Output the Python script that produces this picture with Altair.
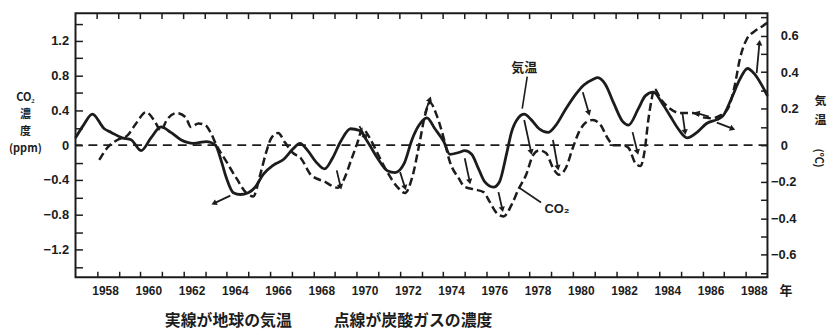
import math
import altair as alt
import pandas as pd

# ---- data ----
# Solid line: global temperature anomaly (right axis, degC)
temp_year = [1957.00, 1957.37, 1957.78, 1958.33, 1958.65, 1959.16, 1959.57, 1960.03, 1960.49, 1960.95,
             1961.41, 1961.87, 1962.46, 1963.06, 1963.47, 1963.75, 1963.98, 1964.30, 1964.62, 1964.99,
             1965.31, 1965.68, 1966.14, 1966.60, 1967.06, 1967.38, 1967.74, 1968.11, 1968.52, 1968.89,
             1969.26, 1969.72, 1970.13, 1970.50, 1970.96, 1971.42, 1971.78, 1972.20, 1972.56, 1972.89,
             1973.25, 1973.62, 1974.03, 1974.31, 1974.72, 1975.00, 1975.32, 1975.64, 1975.92, 1976.33,
             1976.61, 1976.93, 1977.16, 1977.48, 1977.75, 1978.07, 1978.44, 1978.85, 1979.22, 1979.68,
             1980.14, 1980.51, 1980.92, 1981.15, 1981.52, 1981.89, 1982.30, 1982.57, 1983.03, 1983.35,
             1983.72, 1984.13, 1984.50, 1984.87, 1985.28, 1985.74, 1986.20, 1986.66, 1986.94, 1987.35,
             1987.72, 1988.08, 1988.40, 1988.73, 1989.00]
temp_val = [0.04, 0.11, 0.17, 0.09, 0.07, 0.04, 0.03, -0.03, 0.04, 0.10,
            0.07, 0.03, 0.01, 0.02, 0.00, -0.09, -0.18, -0.26, -0.27, -0.26,
            -0.23, -0.16, -0.11, -0.08, -0.02, 0.01, -0.03, -0.09, -0.13, -0.07,
            0.02, 0.09, 0.08, 0.02, -0.07, -0.14, -0.15, -0.10, 0.03, 0.11,
            0.15, 0.09, 0.02, -0.05, -0.04, -0.03, -0.05, -0.13, -0.20, -0.23,
            -0.20, -0.05, 0.07, 0.15, 0.17, 0.14, 0.09, 0.07, 0.11, 0.20,
            0.28, 0.33, 0.36, 0.37, 0.33, 0.23, 0.13, 0.11, 0.20, 0.27,
            0.29, 0.23, 0.16, 0.09, 0.04, 0.07, 0.12, 0.14, 0.16, 0.26,
            0.36, 0.42, 0.39, 0.33, 0.27]

# Dashed line: CO2 concentration anomaly (left axis, ppm)
co2_year = [1958.10, 1958.47, 1958.93, 1959.39, 1959.80, 1960.26, 1960.63, 1960.95, 1961.22, 1961.68,
            1962.10, 1962.33, 1962.69, 1963.01, 1963.24, 1963.52, 1963.98, 1964.44, 1964.90, 1965.22,
            1965.54, 1965.82, 1966.05, 1966.37, 1966.69, 1967.06, 1967.42, 1967.88, 1968.52, 1969.12,
            1969.44, 1969.72, 1970.04, 1970.27, 1970.59, 1970.96, 1971.42, 1971.88, 1972.24, 1972.56,
            1972.89, 1973.16, 1973.39, 1973.71, 1974.03, 1974.31, 1974.72, 1975.00, 1975.46, 1975.87,
            1976.15, 1976.47, 1976.79, 1977.16, 1977.48, 1977.84, 1978.17, 1978.44, 1978.76, 1979.08,
            1979.36, 1979.68, 1980.00, 1980.28, 1980.60, 1980.92, 1981.29, 1981.61, 1981.89, 1982.30,
            1982.57, 1982.90, 1983.13, 1983.31, 1983.49, 1983.63, 1983.77, 1984.04, 1984.50, 1984.96,
            1985.56, 1986.02, 1986.43, 1986.80, 1987.17, 1987.49, 1987.72, 1988.04, 1988.40, 1988.77,
            1989.00]
co2_val = [-0.17, -0.03, 0.06, 0.11, 0.25, 0.38, 0.29, 0.17, 0.29, 0.37,
           0.32, 0.21, 0.25, 0.23, 0.15, 0.00, -0.19, -0.38, -0.55, -0.59,
           -0.34, -0.08, 0.08, 0.14, 0.03, -0.09, -0.15, -0.34, -0.42, -0.49,
           -0.38, -0.19, 0.03, 0.19, 0.09, -0.09, -0.31, -0.48, -0.55, -0.38,
           0.00, 0.34, 0.49, 0.34, 0.08, -0.19, -0.38, -0.48, -0.51, -0.54,
           -0.65, -0.78, -0.82, -0.69, -0.51, -0.34, -0.11, -0.06, -0.09, -0.26,
           -0.34, -0.26, -0.03, 0.15, 0.26, 0.29, 0.23, 0.08, 0.00, 0.00,
           -0.03, -0.21, -0.24, -0.08, 0.29, 0.51, 0.65, 0.54, 0.42, 0.37,
           0.37, 0.32, 0.31, 0.34, 0.42, 0.69, 0.99, 1.22, 1.31, 1.37,
           1.41]

# Lag arrows (tail -> head), in year / ppm units of the left axis
arrow_x0 = [1964.16, 1969.08, 1970.13, 1972.01, 1973.16, 1975.00, 1976.56, 1977.75, 1979.08, 1980.46, 1982.76, 1985.06, 1986.29, 1986.66, 1988.50]
arrow_y0 = [-0.58, -0.29, 0.22, -0.31, 0.37, -0.15, -0.54, 0.29, 0.06, 0.61, 0.15, 0.38, 0.33, 0.26, 0.83]
arrow_x1 = [1963.40, 1969.26, 1970.41, 1972.24, 1973.39, 1975.23, 1976.74, 1978.07, 1979.31, 1980.74, 1982.99, 1985.19, 1985.74, 1987.39, 1988.63]
arrow_y1 = [-0.67, -0.48, 0.09, -0.49, 0.53, -0.42, -0.74, -0.08, -0.26, 0.37, -0.08, 0.15, 0.37, 0.19, 1.18]

year_ticks = list(range(1958, 1989))
left_ticks = [round(i * 0.2, 1) for i in range(-7, 8)]
right_ticks = [round(i * 0.1, 1) for i in range(-7, 8)]

caption_left = "実線が地球の気温"
caption_right = "点線が炭酸ガスの濃度"
left_title = ["CO₂", "濃", "度", "(ppm)"]
right_title = ["気", "温"]
right_unit = "(℃)"

# ---- layout ----
W, H = 697, 266
X_DOM = [1957, 1989]
L_DOM = [-1.52, 1.52]
R_DOM = [-0.723, 0.723]
INK = "#1c1c1c"
NUMFONT = "Liberation Sans"
JPFONT = "Noto Sans CJK JP"

XS = alt.Scale(domain=X_DOM, nice=False, zero=False)
LS = alt.Scale(domain=L_DOM, nice=False, zero=False)
RS = alt.Scale(domain=R_DOM, nice=False, zero=False)

XAX = alt.Axis(values=year_ticks, offset=-6, tickSize=6, tickWidth=1.5, tickColor=INK,
               domain=False, grid=False, title=None,
               labelExpr="datum.value % 2 == 0 ? '' + datum.value : ''",
               labelOffset=8, labelPadding=8, labelFlush=False, labelOverlap=False,
               labelFont=NUMFONT, labelFontWeight="bold", labelFontSize=12, labelColor=INK)

LAX = alt.Axis(values=left_ticks, orient="left", offset=-7, tickSize=7, tickWidth=1.5, tickColor=INK,
               domain=False, grid=False,
               labelExpr="round(datum.value*10) % 4 == 0 ? (datum.value == 0 ? '0' : format(datum.value, '.1f')) : ''",
               labelPadding=7, labelFlush=False, labelOverlap=False,
               labelFont=NUMFONT, labelFontWeight="bold", labelFontSize=13, labelColor=INK,
               title=left_title, titleAngle=0, titleX=-58, titleY=79, titleAlign="center",
               titleBaseline="top", titleLineHeight=17, titleFont=JPFONT, titleFontSize=11,
               titleFontWeight="bold", titleColor=INK)

RAX = alt.Axis(values=right_ticks, orient="right", offset=-7, tickSize=7, tickWidth=1.5, tickColor=INK,
               domain=False, grid=False,
               labelExpr="round(datum.value*10) % 2 == 0 ? (datum.value == 0 ? '0' : format(datum.value, '.1f')) : ''",
               labelPadding={"condition": {"test": "datum.value < 0", "value": 3}, "value": 13},
               labelAlign="left", labelFlush=False, labelOverlap=False,
               labelFont=NUMFONT, labelFontWeight="bold", labelFontSize=13, labelColor=INK,
               title=right_title, titleAngle=0, titleX=60, titleY=83, titleAlign="center",
               titleBaseline="top", titleLineHeight=19, titleFont=JPFONT, titleFontSize=12,
               titleFontWeight="bold", titleColor=INK)


def xq(f):
    return alt.X(f"{f}:Q", scale=XS, axis=XAX)


def yl(f):
    return alt.Y(f"{f}:Q", scale=LS, axis=LAX)


def yr(f):
    return alt.Y(f"{f}:Q", scale=RS, axis=RAX)


temp_df = pd.DataFrame({"year": temp_year, "value": temp_val})
co2_df = pd.DataFrame({"year": co2_year, "value": co2_val})

px_year = W / (X_DOM[1] - X_DOM[0])
px_ppm = H / (L_DOM[1] - L_DOM[0])
angles = []
for a, b, c, d in zip(arrow_x0, arrow_y0, arrow_x1, arrow_y1):
    dx = (c - a) * px_year
    dy = -(d - b) * px_ppm
    angles.append(math.degrees(math.atan2(dx, -dy)) % 360)
arrow_df = pd.DataFrame({"x0": arrow_x0, "y0": arrow_y0, "x1": arrow_x1, "y1": arrow_y1, "ang": angles})

co2_line = alt.Chart(co2_df).mark_line(
    interpolate="monotone", strokeDash=[8, 4], strokeWidth=2.5, color=INK
).encode(x=xq("year"), y=yl("value"))

zero_rule = alt.Chart(pd.DataFrame({"value": [0.0]})).mark_rule(
    strokeDash=[9, 6], strokeWidth=1.8, color=INK
).encode(y=yl("value"))

arrow_lines = alt.Chart(arrow_df).mark_rule(strokeWidth=1.8, color=INK).encode(
    x=xq("x0"), x2="x1:Q", y=yl("y0"), y2="y1:Q")
arrow_heads = alt.Chart(arrow_df).mark_point(
    shape="triangle-up", filled=True, size=40, color=INK, opacity=1
).encode(x=xq("x1"), y=yl("y1"), angle=alt.Angle("ang:Q", scale=None))

top_ticks = alt.Chart(pd.DataFrame({"year": year_ticks})).mark_rule(
    strokeWidth=1.5, color=INK
).encode(x=xq("year"), y=alt.value(0), y2=alt.value(6))

co2_note = pd.DataFrame({"x0": [1977.52], "y0": [-0.49], "x1": [1978.53], "y1": [-0.66],
                         "tx": [1979.27], "ty": [-0.74], "t": ["CO₂"]})
co2_leader = alt.Chart(co2_note).mark_rule(strokeWidth=1.6, color=INK).encode(
    x=xq("x0"), x2="x1:Q", y=yl("y0"), y2="y1:Q")
co2_label = alt.Chart(co2_note).mark_text(
    font=NUMFONT, fontWeight="bold", fontSize=13, color=INK
).encode(x=xq("tx"), y=yl("ty"), text="t:N")

cap1 = alt.Chart(pd.DataFrame({"t": [caption_left]})).mark_text(
    font=JPFONT, fontWeight="bold", fontSize=16, color=INK, align="left", baseline="middle"
).encode(text="t:N", x=alt.value(90), y=alt.value(310))
cap2 = alt.Chart(pd.DataFrame({"t": [caption_right]})).mark_text(
    font=JPFONT, fontWeight="bold", fontSize=16, color=INK, align="left", baseline="middle"
).encode(text="t:N", x=alt.value(260), y=alt.value(310))
nen = alt.Chart(pd.DataFrame({"t": ["年"]})).mark_text(
    font=JPFONT, fontWeight="bold", fontSize=13, color=INK, align="left", baseline="middle"
).encode(text="t:N", x=alt.value(709), y=alt.value(280))
unit = alt.Chart(pd.DataFrame({"t": [right_unit]})).mark_text(
    font=JPFONT, fontWeight="bold", fontSize=11, color=INK, angle=90,
    align="center", baseline="middle"
).encode(text="t:N", x=alt.value(748), y=alt.value(146))

left_group = alt.layer(co2_line, zero_rule, arrow_lines, arrow_heads, top_ticks,
                       co2_leader, co2_label, cap1, cap2, nen, unit)

temp_line = alt.Chart(temp_df).mark_line(
    interpolate="monotone", strokeWidth=2.8, color=INK
).encode(x=xq("year"), y=yr("value"))

t_note = pd.DataFrame({"x0": [1977.89], "y0": [0.375], "x1": [1977.66], "y1": [0.20],
                       "tx": [1977.75], "ty": [0.42], "t": ["気温"]})
t_leader = alt.Chart(t_note).mark_rule(strokeWidth=1.6, color=INK).encode(
    x=xq("x0"), x2="x1:Q", y=yr("y0"), y2="y1:Q")
t_label = alt.Chart(t_note).mark_text(
    font=JPFONT, fontWeight="bold", fontSize=13, color=INK
).encode(x=xq("tx"), y=yr("ty"), text="t:N")

right_group = alt.layer(temp_line, t_leader, t_label)

chart = alt.layer(left_group, right_group).resolve_scale(y="independent").properties(
    width=W, height=H,
    autosize=alt.AutoSizeParams(type="none"),
    padding={"left": 68, "top": 4, "right": 64, "bottom": 56},
    background="white",
).configure_view(stroke=INK, strokeWidth=2)

chart.save("out.html", embed_options={"renderer": "svg", "actions": False})
